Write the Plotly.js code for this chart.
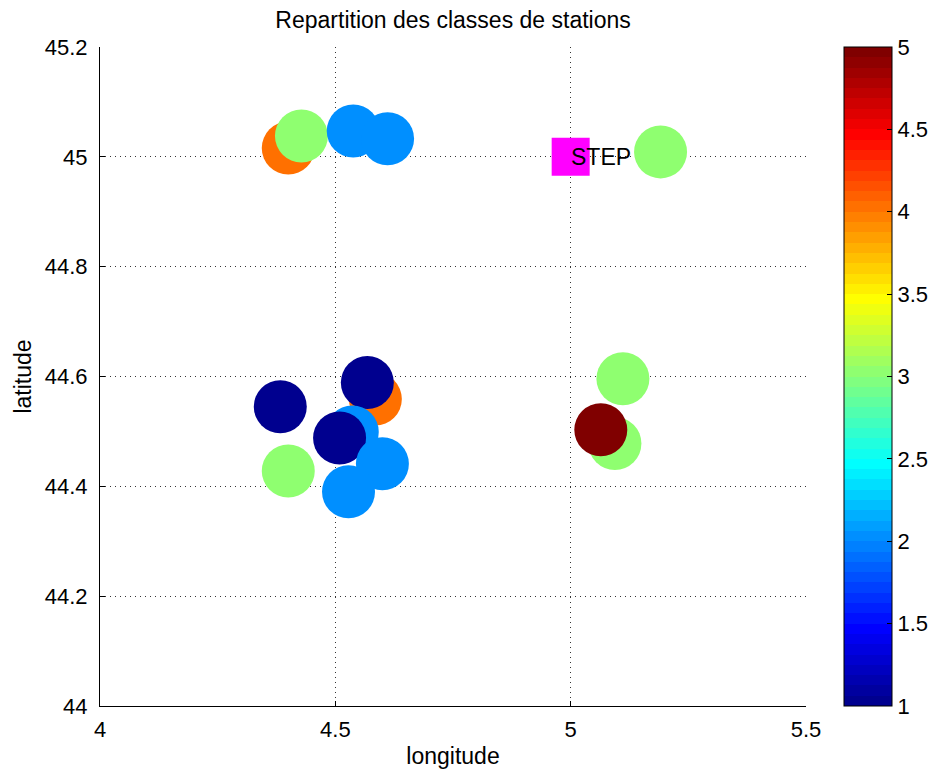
<!DOCTYPE html>
<html>
<head>
<meta charset="utf-8">
<script src="https://cdn.plot.ly/plotly-3.0.1.min.js"></script>
<style>html,body{margin:0;padding:0;background:#fff;}#chart{width:940px;height:775px;}</style>
</head>
<body>
<div id="chart"></div>
<script>
// Station data (longitude, latitude, class), in drawing order
var longitude = [4.400, 4.428, 4.538, 4.611, 5.191, 5.111, 5.094, 5.064, 4.383, 4.585, 4.568, 4.536, 4.509, 4.600, 4.400, 4.528];
var latitude  = [45.016, 45.038, 45.047, 45.033, 45.009, 44.596, 44.478, 44.503, 44.545, 44.559, 44.589, 44.499, 44.488, 44.441, 44.428, 44.390];
var stationClass = [4, 3, 2, 2, 3, 3, 3, 5, 1, 4, 1, 2, 1, 2, 3, 2];

var stepLon = [5.0];
var stepLat = [45.0];
var stepLabel = ["STEP"];

var xTicks = [4, 4.5, 5, 5.5];
var yTicks = [44, 44.2, 44.4, 44.6, 44.8, 45, 45.2];
var cTicks = [1, 1.5, 2, 2.5, 3, 3.5, 4, 4.5, 5];

// MATLAB jet(64) colormap, discrete bins
function jet64() {
  var m = 64, n = 16, cols = [];
  function cl(v){ return Math.max(0, Math.min(1, v)); }
  for (var i = 1; i <= m; i++) {
    var r = cl(Math.min((i - 24) / n, (64 + 8 - i) / n));
    var g = cl(Math.min((i - 8) / n, (56 - i) / n));
    var b = cl(Math.min((i + 8) / n, (40 - i) / n));
    cols.push('rgb(' + Math.round(r*255) + ',' + Math.round(g*255) + ',' + Math.round(b*255) + ')');
  }
  return cols;
}
var jc = jet64();
var colorscale = [];
for (var i = 0; i < 64; i++) {
  colorscale.push([i / 64, jc[i]]);
  colorscale.push([i === 63 ? 1 : (i + 1) / 64 - 1e-6, jc[i]]);
}

var font = "Liberation Sans, Arial, Helvetica, sans-serif";

var traces = [
  {
    x: longitude, y: latitude, type: 'scatter', mode: 'markers',
    marker: {
      size: 53, color: stationClass, cmin: 1, cmax: 5, colorscale: colorscale,
      opacity: 1, line: {width: 0},
      colorbar: {
        x: 1.054, xanchor: 'left', y: 0.5, yanchor: 'middle',
        len: 1, lenmode: 'fraction', thickness: 48, thicknessmode: 'pixels',
        xpad: 0, ypad: 0, outlinecolor: '#000', outlinewidth: 1,
        tickvals: cTicks, ticktext: cTicks.map(String),
        ticks: 'inside', ticklen: 5, tickcolor: '#000',
        tickfont: {family: font, size: 22, color: '#000'}
      }
    },
    hoverinfo: 'x+y', showlegend: false
  },
  {
    x: stepLon, y: stepLat, type: 'scatter', mode: 'markers',
    marker: {symbol: 'square', size: 38, color: '#ff00ff', line: {width: 0}},
    showlegend: false
  }
];

var layout = {
  width: 940, height: 775,
  margin: {l: 100, r: 134, t: 47, b: 69, autoexpand: false},
  paper_bgcolor: '#fff', plot_bgcolor: '#fff',
  font: {family: font, size: 22, color: '#000'},
  title: {text: 'Repartition des classes de stations', x: 0.482, xanchor: 'center', y: 0.974, yanchor: 'middle',
          font: {family: font, size: 23, color: '#000'}},
  xaxis: {
    range: [4, 5.5], tickvals: xTicks, ticktext: xTicks.map(String), automargin: false,
    showline: true, linecolor: '#000', linewidth: 1, mirror: false,
    ticks: 'inside', ticklen: 5, tickcolor: '#000', ticklabelstandoff: 4,
    showgrid: true, gridcolor: '#333', griddash: '1px,4px', gridwidth: 1,
    zeroline: false, tickfont: {family: font, size: 22},
    title: {text: 'longitude', font: {family: font, size: 23}, standoff: 6}
  },
  yaxis: {
    range: [44, 45.2], tickvals: yTicks, ticktext: yTicks.map(String), automargin: false,
    showline: true, linecolor: '#000', linewidth: 1, mirror: false,
    ticks: 'inside', ticklen: 5, tickcolor: '#000', ticklabelstandoff: 7,
    showgrid: true, gridcolor: '#333', griddash: '1px,4px', gridwidth: 1,
    zeroline: false, tickfont: {family: font, size: 22},
    title: {text: 'latitude', font: {family: font, size: 23}, standoff: 6}
  },
  annotations: [{
    x: stepLon[0], y: stepLat[0], xref: 'x', yref: 'y', text: stepLabel[0],
    showarrow: false, xanchor: 'left', yanchor: 'middle', xshift: -2,
    font: {family: font, size: 23, color: '#000'}
  }]
};

Plotly.newPlot('chart', traces, layout, {displayModeBar: false, staticPlot: true});
</script>
</body>
</html>
